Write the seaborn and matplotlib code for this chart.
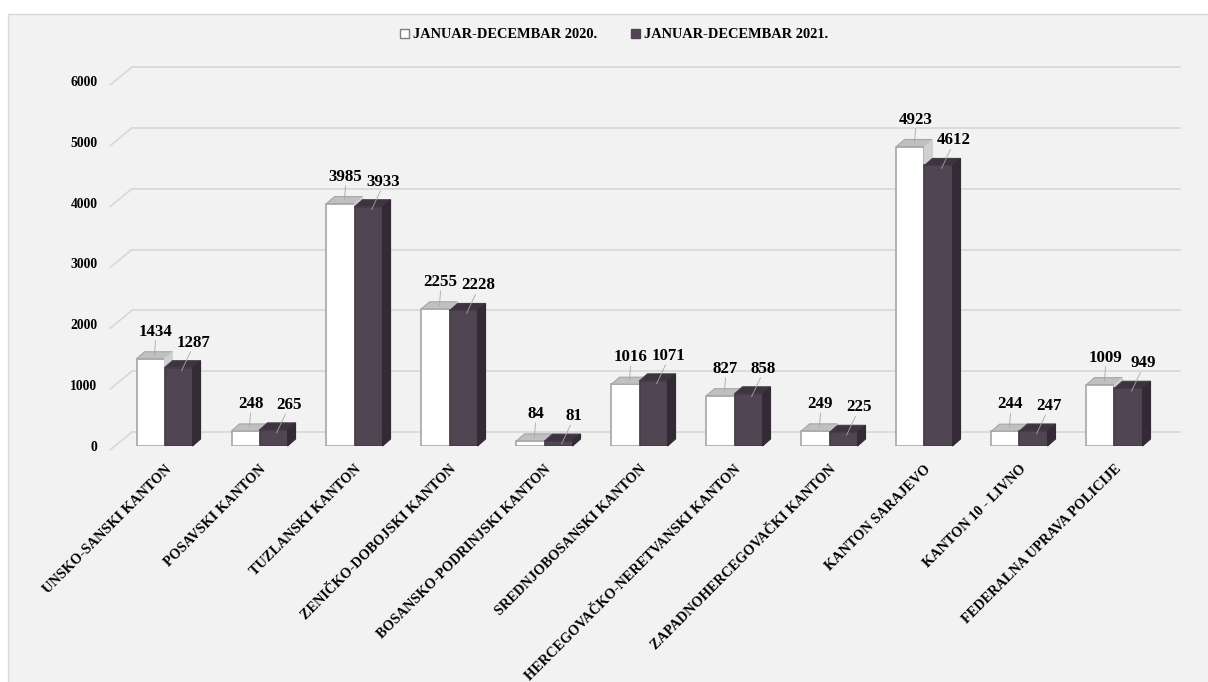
import matplotlib
matplotlib.use("Agg")
import pandas as pd
import matplotlib.pyplot as plt
import seaborn as sns
from matplotlib.patches import Polygon, Rectangle, Patch

# podaci
regions = ["UNSKO-SANSKI KANTON", "POSAVSKI KANTON", "TUZLANSKI KANTON",
           "ZENIČKO-DOBOJSKI KANTON", "BOSANSKO-PODRINJSKI KANTON",
           "SREDNJOBOSANSKI KANTON", "HERCEGOVAČKO-NERETVANSKI KANTON",
           "ZAPADNOHERCEGOVAČKI KANTON", "KANTON SARAJEVO", "KANTON 10 - LIVNO",
           "FEDERALNA UPRAVA POLICIJE"]
series_names = ["JANUAR-DECEMBAR 2020.", "JANUAR-DECEMBAR 2021."]
vals_2020 = [1434, 248, 3985, 2255, 84, 1016, 827, 249, 4923, 244, 1009]
vals_2021 = [1287, 265, 3933, 2228, 81, 1071, 858, 225, 4612, 247, 949]
y_ticks = [0, 1000, 2000, 3000, 4000, 5000, 6000]

df = pd.DataFrame({
    "region": regions * 2,
    "period": [series_names[0]] * len(regions) + [series_names[1]] * len(regions),
    "value": vals_2020 + vals_2021,
})

sns.set_style("white")
plt.rcParams["font.family"] = ["Liberation Serif", "DejaVu Serif"]
plt.rcParams["font.weight"] = "bold"
plt.rcParams["text.color"] = "black"
plt.rcParams["xtick.color"] = "black"
plt.rcParams["ytick.color"] = "black"

W, H = 1208, 682
fig = plt.figure(figsize=(W / 100, H / 100), dpi=100)
fig.patch.set_facecolor("white")
fig.add_artist(Rectangle((8 / W, -0.01), 1, (H - 14) / H + 0.01, transform=fig.transFigure,
                         facecolor="#f2f2f2", edgecolor="#d9d9d9", lw=1, zorder=-10))

ax = fig.add_axes([110 / W, (H - 446) / H, 1048 / W, 365 / H])
ax.set_facecolor("none")

col_w, col_d = "#ffffff", "#504552"
sns.barplot(data=df, x="region", y="value", hue="period", palette=[col_w, col_d],
            width=0.59, gap=0, saturation=1, legend=False, ax=ax)

xl, xr = -0.574, 10.458
ax.set_xlim(xl, xr)
ax.set_ylim(0, 6000)
sns.despine(ax=ax, left=True, bottom=True)

# pikseli -> jedinice podataka
sx = (xr - xl) / 1048
sy = 6000 / 365
DX, DY = 8 * sx, 7 * sy

# mreza sa "3D" pomakom
for v in y_ticks:
    ax.plot([xl, xl + 22 * sx], [v - 4 * sy, v + 14 * sy], color="#d9d9d9", lw=1.3,
            clip_on=False, zorder=1)
    ax.plot([xl + 22 * sx, xr + 22 * sx], [v + 14 * sy, v + 14 * sy], color="#d9d9d9",
            lw=1.3, clip_on=False, zorder=1)

styles = [
    dict(front=col_w, edge="#a6a6a6", top="#c0c0c0", side="#d0d0d0", z=3),
    dict(front=col_d, edge="#463c48", top="#3d343f", side="#332a35", z=5),
]

for k, cont in enumerate(ax.containers):
    st = styles[k]
    for bar in cont:
        x0, w, h = bar.get_x(), bar.get_width(), bar.get_height()
        bar.set_facecolor(st["front"])
        bar.set_edgecolor(st["edge"])
        bar.set_linewidth(1.2)
        bar.set_zorder(st["z"])
        top = [(x0, h), (x0 + w, h), (x0 + w + DX, h + DY), (x0 + DX, h + DY)]
        side = [(x0 + w, 0), (x0 + w + DX, DY), (x0 + w + DX, h + DY), (x0 + w, h)]
        ax.add_patch(Polygon(top, closed=True, facecolor=st["top"], edgecolor=st["edge"],
                             lw=0.8, zorder=st["z"] + 0.5, clip_on=False))
        ax.add_patch(Polygon(side, closed=True, facecolor=st["side"], edgecolor=st["side"],
                             lw=0.8, zorder=st["z"] + 0.5, clip_on=False))
        cx = x0 + w / 2
        yb = h + DY
        if k == 0:
            tx, ty = cx + 5 * sx, yb + 12 * sy
            ax.plot([tx, cx + DX / 2], [ty - 1 * sy, h + DY / 2], color="#a6a6a6", lw=0.6,
                    zorder=8, clip_on=False)
        else:
            tx, ty = cx + 15 * sx, yb + 10 * sy
            ax.plot([tx - 3 * sx, cx + 3 * sx], [ty - 1 * sy, h - 3 * sy], color="#a6a6a6",
                    lw=0.6, zorder=8, clip_on=False)
        ax.text(tx, ty, f"{int(h)}", ha="center", va="bottom", fontsize=12.2,
                fontweight="bold", color="black", zorder=9)

ax.set_yticks(y_ticks)
ax.set_yticklabels([str(t) for t in y_ticks])
ax.tick_params(axis="y", length=0, pad=9, labelsize=9.8)
ax.set_xticks(range(len(regions)))
ax.set_xticklabels(regions)
ax.tick_params(axis="x", length=0, pad=12, labelsize=10.3)
for lbl in ax.get_xticklabels():
    lbl.set_rotation(45)
    lbl.set_ha("right")
    lbl.set_va("top")
    lbl.set_rotation_mode("anchor")
ax.set_xlabel("")
ax.set_ylabel("")
ax.grid(False)

handles = [Patch(facecolor=col_w, edgecolor="#7f7f7f"), Patch(facecolor=col_d, edgecolor=col_d)]
fig.legend(handles=handles, labels=series_names, loc="center",
           bbox_to_anchor=(614 / W, 1 - 35 / H), ncol=2, frameon=False,
           handlelength=0.6, handleheight=0.6, handletextpad=0.25, columnspacing=2.4,
           fontsize=10.4)

fig.savefig("out.png", dpi=100)
